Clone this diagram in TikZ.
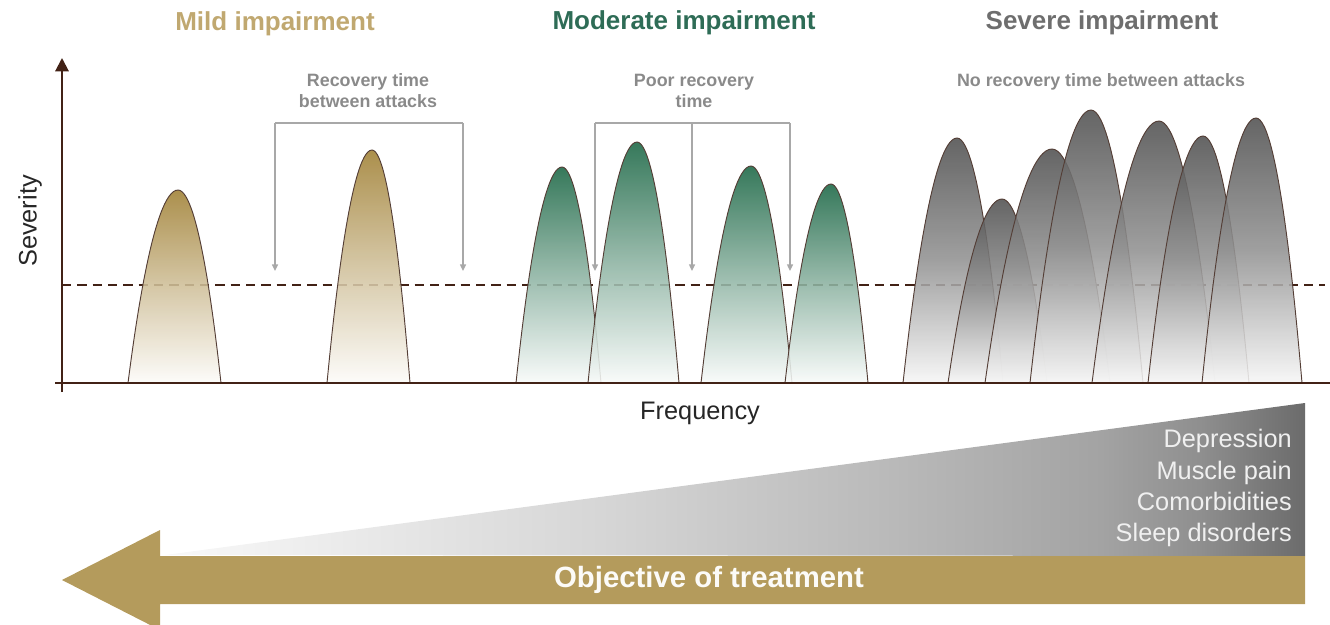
\documentclass[tikz,border=0pt]{standalone}
\usepackage{fontspec}
\setmainfont{Liberation Sans}
\usetikzlibrary{arrows.meta}

\definecolor{axisbrown}{RGB}{66,34,22}
\definecolor{mildgold}{RGB}{160,128,52}
\definecolor{mildtitle}{RGB}{192,168,112}
\definecolor{modgreen}{RGB}{26,102,68}
\definecolor{modtitle}{RGB}{46,108,86}
\definecolor{sevgrey}{RGB}{80,80,80}
\definecolor{sevtitle}{RGB}{110,110,110}
\definecolor{notegrey}{RGB}{138,138,138}
\definecolor{bracketgrey}{RGB}{168,168,168}
\definecolor{bandgold}{RGB}{180,155,92}
\pgfdeclarehorizontalshading{burdenshade}{100bp}{%
  color(0bp)=(white!95!gray); color(25bp)=(white!95!gray);
  color(44bp)=(gray!32!white); color(57bp)=(gray!55!white);
  color(66bp)=(gray!72!white); color(70.4bp)=(gray!88!white);
  color(75bp)=(black!58!white); color(100bp)=(black!58!white)}

\begin{document}
\begin{tikzpicture}[x=0.75pt,y=-0.75pt,
  title/.style={font=\fontsize{19.5}{23}\selectfont\bfseries},
  note/.style={font=\fontsize{13.4}{15.8}\selectfont\bfseries,text=notegrey,align=center},
  axislabel/.style={font=\fontsize{19}{23}\selectfont,text=black!85},
  peak/.style={draw=axisbrown!70!gray,line width=0.7pt,fill opacity=0.88},
  mildpeak/.style={peak,top color=mildgold,bottom color=mildgold!3,middle color=mildgold!50},
  modpeak/.style={peak,top color=modgreen,bottom color=modgreen!3,middle color=modgreen!50},
  sevpeak/.style={peak,top color=sevgrey,bottom color=sevgrey!5,middle color=sevgrey!62},
  axis/.style={draw=axisbrown,line width=1.5pt},
  threshold/.style={draw=axisbrown,line width=1.4pt,dash pattern=on 7pt off 4.5pt},
  bracket/.style={draw=bracketgrey,line width=1pt},
  gaparrow/.style={bracket,-{Triangle[length=5pt,width=4.5pt]}}]
\useasboundingbox (0,0) rectangle (1330,624);

\draw[threshold] (62,285) -- (1325,285);

\draw[mildpeak] (128,383) parabola bend (178,190) (221,383);
\draw[mildpeak] (327,383) parabola bend (372,150) (410,383);

\draw[modpeak] (516,383) parabola bend (562,167) (601,383);
\draw[modpeak] (588,383) parabola bend (637,142) (679,383);
\draw[modpeak] (701,383) parabola bend (751,166) (792,383);
\draw[modpeak] (785,383) parabola bend (831,184) (868,383);

\draw[sevpeak] (903,383) parabola bend (957,138) (1003,383);
\draw[sevpeak] (948,383) parabola bend (1002,199) (1047,383);
\draw[sevpeak] (985,383) parabola bend (1052,149) (1110,383);
\draw[sevpeak] (1030,383) parabola bend (1091,110) (1143,383);
\draw[sevpeak] (1092,383) parabola bend (1159,121) (1215,383);
\draw[sevpeak] (1148,383) parabola bend (1203,136) (1249,383);
\draw[sevpeak] (1202,383) parabola bend (1256,118) (1302,383);

\coordinate (ytop) at (62,58);
\coordinate (ybot) at (62,392);
\coordinate (xleft) at (55,383);
\coordinate (xright) at (1330,383);
\draw[axis,-{Triangle[width=10pt,length=10pt]}] (ybot) -- (ytop);
\draw[axis] (xleft) -- (xright);

\node[axislabel,rotate=90] (severity) at (30,221) {Severity};
\node[axislabel] (frequency) at (700,413) {Frequency};

\node[title,text=mildtitle,anchor=base] (mild) at (275,31) {Mild impairment};
\node[title,text=modtitle,anchor=base] (moderate) at (684,30) {Moderate impairment};
\node[title,text=sevtitle,anchor=base] (severe) at (1102,30) {Severe impairment};

\node[note] (mildgap) at (368,91) {Recovery time\\between attacks};
\node[note] (modgap) at (694,91) {Poor recovery\\time};
\node[note] (sevgap) at (1101,82) {No recovery time between attacks};

\coordinate (gapend) at (0,271);
\coordinate (mildL) at (275,123);
\coordinate (mildR) at (463,123);
\draw[bracket] (mildL) -- (mildR);
\draw[gaparrow] (mildL) -- (mildL |- gapend);
\draw[gaparrow] (mildR) -- (mildR |- gapend);

\coordinate (modL) at (595,123);
\coordinate (modM) at (692,123);
\coordinate (modR) at (790,123);
\draw[bracket] (modL) -- (modR);
\draw[gaparrow] (modL) -- (modL |- gapend);
\draw[gaparrow] (modM) -- (modM |- gapend);
\draw[gaparrow] (modR) -- (modR |- gapend);

\shade[shading=burdenshade] (165,555) -- (1305,403) -- (1305,556) -- cycle;
\node[font=\fontsize{19}{23.3}\selectfont,text=white!94!black,align=right,anchor=east,inner sep=0pt]
  (burden) at (1292,488) {Depression\\Muscle pain\\Comorbidities\\Sleep disorders};

\fill[bandgold] (62,580) -- (160,530) -- (160,556) -- (1305,556) -- (1305,604)
  -- (160,604) -- (160,630) -- cycle;
\node[font=\fontsize{22}{26}\selectfont\bfseries,text=white!96!bandgold]
  (objective) at (709,580) {Objective of treatment};
\end{tikzpicture}
\end{document}
